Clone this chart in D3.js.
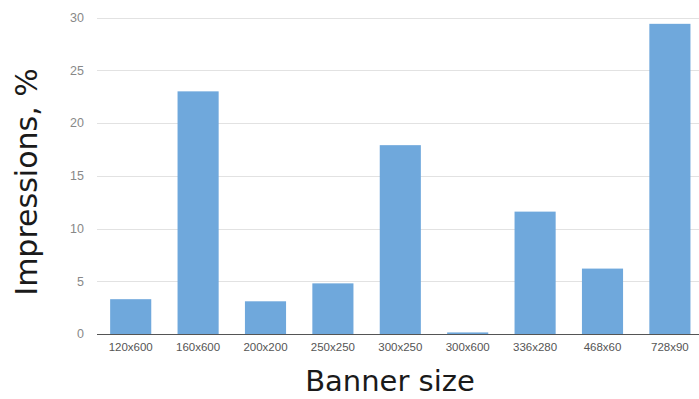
<!DOCTYPE html>
<html><head><meta charset="utf-8">
<script src="https://cdn.jsdelivr.net/npm/d3@7"></script>
<style>body{margin:0;background:#fff}svg{display:block}</style>
</head><body><svg id="c" width="699" height="399"></svg>
<script>
const categories = ["120x600","160x600","200x200","250x250","300x250","300x600","336x280","468x60","728x90"];
const values = [3.3, 23.0, 3.1, 4.8, 17.9, 0.15, 11.6, 6.2, 29.4];
const yTicks = [0, 5, 10, 15, 20, 25, 30];
const xTitle = "Banner size";
const yTitle = "Impressions, %";

(function () {
const svg = d3.select("#c");
const mLeft = 97, mRight = 699, mTop = 17.5, mBottom = 334;
const x = d3.scaleBand().domain(categories).range([mLeft, 703.6]).paddingInner(0.39).paddingOuter(0.195);
const y = d3.scaleLinear().domain([0, 30]).range([mBottom, mTop]);

svg.append("g").selectAll("line").data(yTicks.filter(d => d > 0)).join("line")
  .attr("x1", mLeft).attr("x2", mRight)
  .attr("y1", d => Math.round(y(d)) + 0.5).attr("y2", d => Math.round(y(d)) + 0.5)
  .attr("stroke", "#e2e2e2").attr("stroke-width", 1);

svg.append("g").selectAll("text").data(yTicks).join("text")
  .attr("x", 84).attr("y", d => y(d)).attr("dy", "0.35em")
  .attr("text-anchor", "end")
  .attr("font-family", "Liberation Sans, Arial, sans-serif").attr("font-size", 12.5)
  .attr("fill", "#888").text(d => d);

svg.append("g").selectAll("rect").data(values).join("rect")
  .attr("x", (d, i) => x(categories[i]))
  .attr("width", x.bandwidth())
  .attr("y", d => y(d))
  .attr("height", d => y(0) - y(d))
  .attr("fill", "#6fa8dc");

svg.append("line").attr("x1", mLeft).attr("x2", mRight)
  .attr("y1", mBottom + 0.5).attr("y2", mBottom + 0.5)
  .attr("stroke", "#555").attr("stroke-width", 1.2);

svg.append("g").selectAll("text").data(categories).join("text")
  .attr("x", d => x(d) + x.bandwidth() / 2).attr("y", 351)
  .attr("text-anchor", "middle")
  .attr("font-family", "Liberation Sans, Arial, sans-serif").attr("font-size", 11.5)
  .attr("fill", "#555").text(d => d);

svg.append("text").attr("x", 390).attr("y", 391)
  .attr("text-anchor", "middle")
  .attr("font-family", "DejaVu Sans, Verdana, sans-serif").attr("font-size", 29)
  .attr("fill", "#1a1a1a").text(xTitle);

svg.append("text").attr("transform", "translate(37,182) rotate(-90)")
  .attr("text-anchor", "middle")
  .attr("font-family", "DejaVu Sans, Verdana, sans-serif").attr("font-size", 30)
  .attr("fill", "#1a1a1a").text(yTitle);
})();
</script>
</body></html>
